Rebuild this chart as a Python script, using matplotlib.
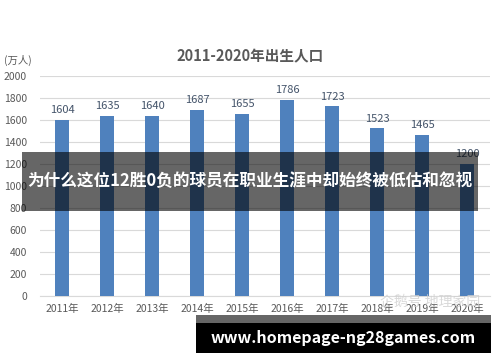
import matplotlib.pyplot as plt
from matplotlib.patches import Rectangle

plt.rcParams['font.family'] = ['Noto Sans CJK SC', 'DejaVu Sans']

years = ['2011年', '2012年', '2013年', '2014年', '2015年',
         '2016年', '2017年', '2018年', '2019年', '2020年']
births = [1604, 1635, 1640, 1687, 1655, 1786, 1723, 1523, 1465, 1200]
yticks = [0, 200, 400, 600, 800, 1000, 1200, 1400, 1600, 1800, 2000]

W, H = 500, 362
fig = plt.figure(figsize=(5, 3.62), dpi=100)


def fx(px):
    return px / W


def fy(py):
    return 1 - py / H


ax = fig.add_axes([fx(39.5), fy(296), fx(450), 220 / H])
x = range(len(years))
ax.bar(x, births, width=0.31, color='#4F81BD', zorder=3)
for i, v in enumerate(births):
    ax.text(i, v + 45, str(v), ha='center', va='bottom',
            fontsize=8, color='#44546A', zorder=4)

ax.set_xlim(-0.5, len(years) - 0.5)
ax.set_ylim(0, 2000)
ax.set_yticks(yticks)
ax.set_xticks(list(x))
ax.set_xticklabels(years)
ax.tick_params(axis='both', length=0, labelsize=7.5, labelcolor='#595959')
ax.tick_params(axis='y', pad=9)
ax.tick_params(axis='x', pad=6)
ax.grid(axis='y', color='#D9D9D9', linewidth=0.8, zorder=0)
for s in ['left', 'right', 'top']:
    ax.spines[s].set_visible(False)
ax.spines['bottom'].set_color('#D9D9D9')

fig.text(fx(250), fy(56), '2011-2020年出生人口', ha='center', va='center',
         fontsize=10.5, fontweight='bold', color='#595959')
fig.text(fx(4), fy(60), '(万人)', ha='left', va='center',
         fontsize=7.5, color='#595959')

# watermark
fig.text(fx(430), fy(302), '企鹅号 地理家园', ha='center', va='center',
         fontsize=10, color='#D0D0D0', alpha=0.8, zorder=5)

# dark band overlay with headline
fig.patches.append(Rectangle((fx(22), fy(211)), fx(456), 59 / H,
                             transform=fig.transFigure, facecolor='black',
                             alpha=0.6, zorder=10))
fig.text(fx(250), fy(181), '为什么这位12胜0负的球员在职业生涯中却始终被低估和忽视',
         ha='center', va='center', fontsize=12, fontweight='bold',
         color='white', zorder=11)

# bottom banner
fig.patches.append(Rectangle((fx(196), fy(323)), fx(295), 8 / H,
                             transform=fig.transFigure, facecolor='#666666',
                             zorder=10))
fig.patches.append(Rectangle((fx(196), fy(353)), fx(295), 30 / H,
                             transform=fig.transFigure, facecolor='black',
                             zorder=10))
fig.text(fx(343), fy(338), 'www.homepage-ng28games.com', ha='center',
         va='center', fontsize=11.5, fontweight='bold', color='white',
         zorder=11)

fig.savefig('out.png', dpi=100)
